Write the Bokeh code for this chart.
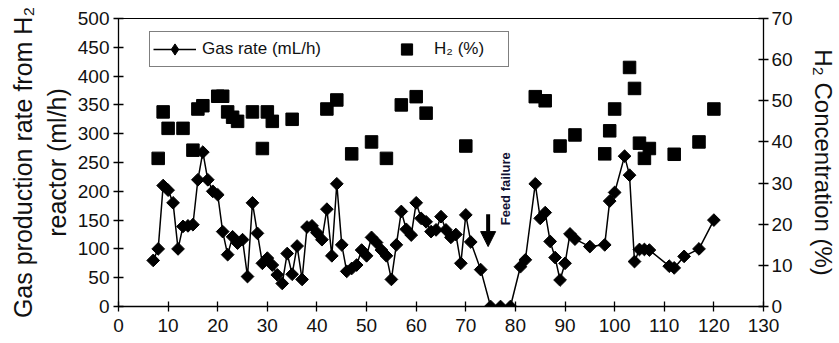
import numpy as np
from bokeh.plotting import figure
from bokeh.models import (Range1d, LinearAxis, Legend, LegendItem, Arrow,
                          NormalHead, Label, FixedTicker)
from bokeh.embed import file_html
from bokeh.resources import INLINE

# ---------------- data ----------------
day_gas = [7, 8, 9, 10, 11, 12, 13, 14, 15, 16, 17, 18, 19, 20, 21, 22, 23, 24, 25,
           26, 27, 28, 29, 30, 31, 32, 33, 34, 35, 36, 37, 38, 39, 40, 41, 42, 43,
           44, 45, 46, 47, 48, 49, 50, 51, 52, 53, 54, 55, 56, 57, 58, 59, 60, 61,
           62, 63, 64, 65, 66, 67, 68, 69, 70, 71, 73, 75, 77, 79, 81, 82, 84, 85,
           86, 87, 88, 89, 90, 91, 92, 95, 98, 99, 100, 102, 103, 104, 105, 106,
           107, 111, 112, 114, 117, 120]
gas_rate = [80, 100, 210, 202, 180, 100, 139, 140, 142, 220, 268, 220, 200, 194, 130,
            90, 121, 110, 116, 52, 180, 127, 75, 84, 72, 55, 40, 92, 56, 105, 47, 138,
            140, 128, 116, 169, 88, 213, 107, 61, 66, 72, 98, 88, 120, 111, 98, 88, 47,
            107, 165, 134, 124, 180, 153, 147, 130, 133, 156, 133, 120, 125, 75, 159,
            112, 64, 0, 0, 0, 69, 81, 213, 153, 163, 113, 85, 46, 75, 126, 117, 104,
            107, 183, 198, 261, 228, 78, 99, 99, 98, 70, 67, 87, 100, 150]

day_h2 = [8, 9, 10, 13, 15, 16, 17, 20, 21, 22, 23, 24, 27, 29, 30, 31, 35, 42, 44,
          47, 51, 54, 57, 60, 62, 70, 84, 86, 89, 92, 98, 99, 100, 103, 104, 105,
          106, 107, 112, 117, 120]
h2_pct = [36, 47.3, 43.3, 43.3, 38, 48, 48.8, 51.1, 51.1, 47.3, 46, 45, 47.3, 38.4,
          47.3, 45, 45.5, 48, 50.2, 37.1, 40, 36, 49, 51, 47, 39, 51, 50, 39, 41.7,
          37.1, 42.7, 48, 58.1, 53, 39.7, 36, 38.4, 37, 40, 48]

x_ticks = list(range(0, 131, 10))
left_ticks = list(range(0, 501, 50))
right_ticks = list(range(0, 71, 10))

# annotation of the feed failure
feed_arrow_x = 74.5
feed_arrow_top = 160
feed_arrow_tip = 104
feed_text_x = 78
feed_text_y = 141
feed_text = "Feed failure"

FONT = "Liberation Sans"

# ---------------- figure ----------------
p = figure(width=839, height=343, output_backend="svg", toolbar_location=None,
           x_range=Range1d(0, 130), y_range=Range1d(0, 500),
           min_border_left=118, min_border_right=73, min_border_top=18,
           min_border_bottom=37)
p.extra_y_ranges = {"h2": Range1d(0, 70)}
p.grid.visible = False
p.outline_line_color = "black"
p.outline_line_width = 1
p.background_fill_color = "white"
p.border_fill_color = "white"


def style_axis(ax, tick_size="19px"):
    ax.axis_line_color = "black"
    ax.axis_line_width = 1.3
    ax.major_tick_line_color = "black"
    ax.major_tick_line_width = 1.3
    ax.major_tick_in = 5
    ax.major_tick_out = 5
    ax.minor_tick_line_color = None
    ax.major_label_text_font = FONT
    ax.major_label_text_font_size = tick_size
    ax.major_label_text_color = "#111111"
    ax.axis_label_text_font = FONT
    ax.axis_label_text_font_style = "normal"
    ax.axis_label_text_color = "#111111"


xa = p.xaxis[0]
style_axis(xa)
xa.ticker = FixedTicker(ticks=x_ticks)
xa.major_label_standoff = 7

ya = p.yaxis[0]
style_axis(ya)
ya.ticker = FixedTicker(ticks=left_ticks)
ya.axis_label = "Gas production rate from H\u2082\nreactor (ml/h)"
ya.axis_label_text_font_size = "25px"
ya.axis_label_standoff = 4
ya.major_label_standoff = 4

ra = LinearAxis(y_range_name="h2")
style_axis(ra)
ra.ticker = FixedTicker(ticks=right_ticks)
ra.axis_label = "H\u2082 Concentration (%)"
ra.axis_label_text_font_size = "24px"
ra.axis_label_standoff = 14
ra.major_label_standoff = 3
p.add_layout(ra, "right")

# ---------------- glyphs ----------------
line_r = p.line(day_gas, gas_rate, line_color="black", line_width=1.5)
dia_r = p.scatter(day_gas, gas_rate, marker="square", angle=np.pi / 4, size=9,
                  fill_color="black", line_color="black")
sq_r = p.scatter(day_h2, h2_pct, marker="square", size=12.5, y_range_name="h2",
                 fill_color="black", line_color="black")
# legend-only diamond glyph (legend glyphs ignore marker angle); hidden on the plot
leg_dia = p.scatter(day_gas, gas_rate, marker="diamond", size=12,
                    fill_color="black", line_color="black", visible=False)

# ---------------- annotations ----------------
arrow = Arrow(end=NormalHead(size=15, fill_color="black", line_color="black", line_width=1),
              x_start=feed_arrow_x, y_start=feed_arrow_top,
              x_end=feed_arrow_x, y_end=feed_arrow_tip,
              line_width=4, line_color="black")
p.add_layout(arrow)

lbl = Label(x=feed_text_x, y=feed_text_y, text=feed_text, angle=np.pi / 2,
            text_font=FONT, text_font_size="13px", text_font_style="bold",
            text_align="left", text_baseline="middle", text_color="#111133")
p.add_layout(lbl)

legend = Legend(items=[LegendItem(label="Gas rate (mL/h)", renderers=[line_r, leg_dia]),
                       LegendItem(label="H\u2082 (%)", renderers=[sq_r])],
                orientation="horizontal", location=(31, 239), margin=0,
                padding=3, spacing=64, glyph_width=43, glyph_height=28,
                label_standoff=6, label_width=71,
                label_text_font=FONT, label_text_font_size="17px",
                label_text_color="#111111",
                border_line_color="black", border_line_width=1.5,
                background_fill_color="white", background_fill_alpha=1,
                inactive_fill_alpha=0)
p.add_layout(legend, "center")

open("out.html", "w").write(file_html(p, INLINE))
